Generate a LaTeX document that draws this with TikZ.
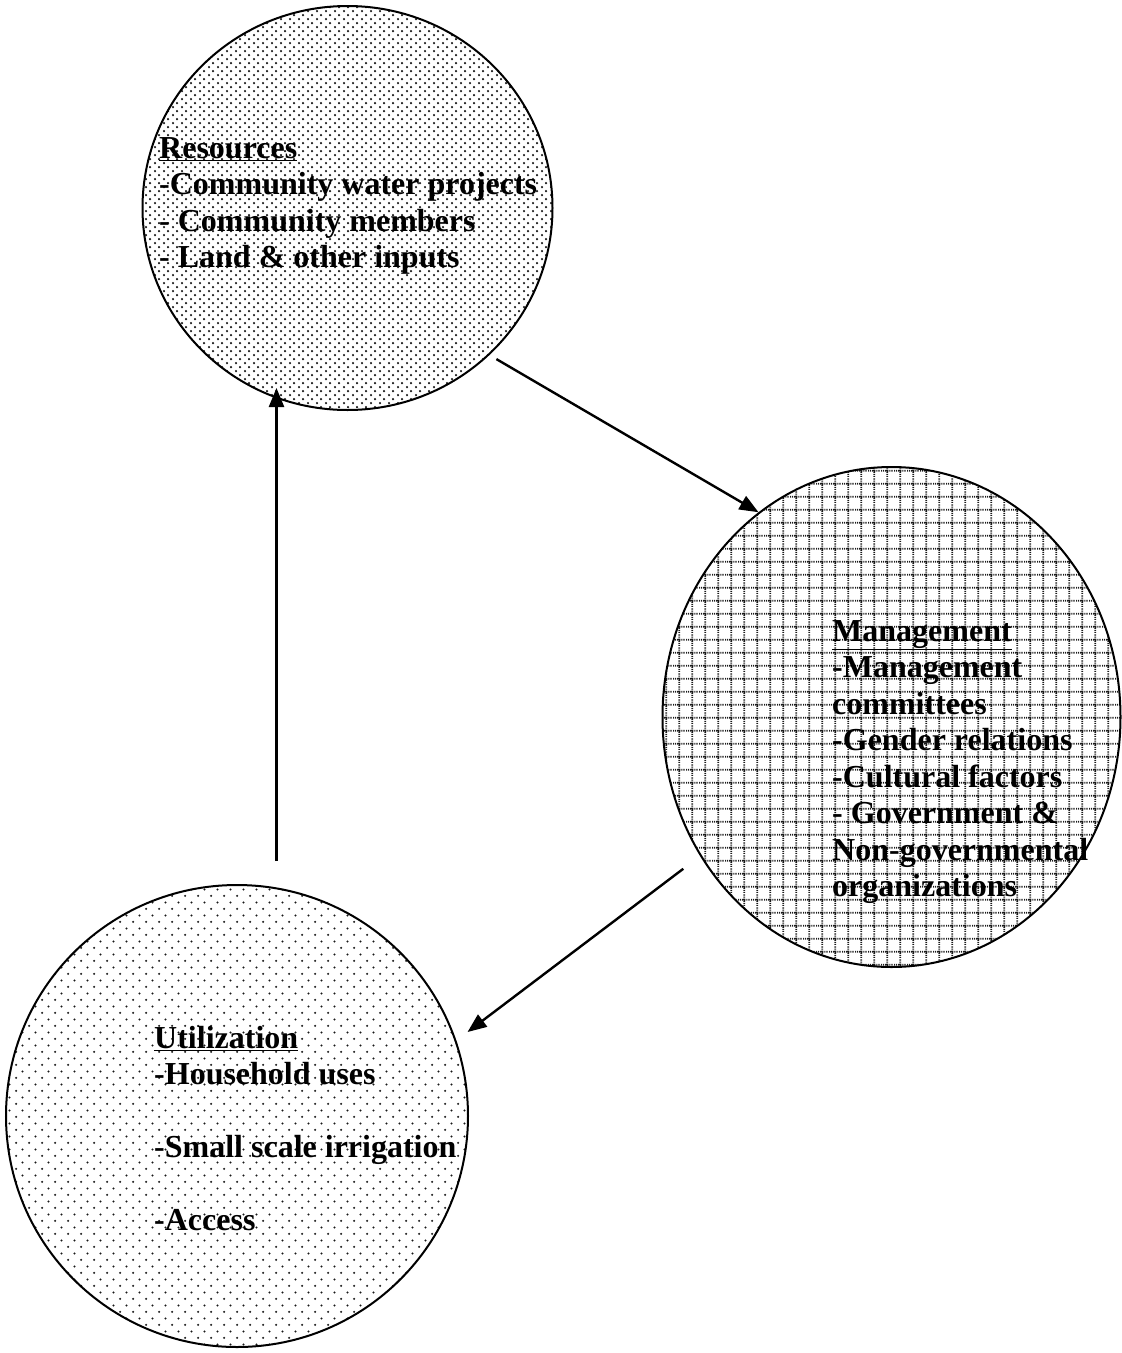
\documentclass[tikz,border=0pt]{standalone}
\usepackage{fontspec}
\setmainfont{Liberation Serif}
\usetikzlibrary{shapes.geometric,patterns.meta,arrows.meta}

\tikzdeclarepattern{
  name=resdots,
  type=uncolored,
  bottom left={(0pt,0pt)},
  top right={(9pt,8.4pt)},
  tile size={(9pt,8.4pt)},
  code={
    \pgfpathcircle{\pgfpoint{2.25pt}{2.1pt}}{1.35pt}
    \pgfpathcircle{\pgfpoint{6.75pt}{6.3pt}}{1.35pt}
    \pgfusepath{fill}
  }
}
\tikzdeclarepattern{
  name=mangrid,
  type=uncolored,
  bottom left={(0pt,0pt)},
  top right={(13.2pt,13.2pt)},
  tile size={(13.2pt,13.2pt)},
  code={
    \pgfsetlinewidth{1.8pt}
    \pgfsetdash{{1.2pt}{1.0pt}}{0pt}
    \pgfpathmoveto{\pgfpoint{0pt}{6.6pt}}\pgfpathlineto{\pgfpoint{13.2pt}{6.6pt}}
    \pgfpathmoveto{\pgfpoint{6.6pt}{0pt}}\pgfpathlineto{\pgfpoint{6.6pt}{13.2pt}}
    \pgfusepath{stroke}
  }
}
\tikzdeclarepattern{
  name=utildots,
  type=uncolored,
  bottom left={(0pt,0pt)},
  top right={(13.3pt,13.3pt)},
  tile size={(13.3pt,13.3pt)},
  code={
    \pgfpathcircle{\pgfpoint{3.3pt}{3.3pt}}{1.2pt}
    \pgfpathcircle{\pgfpoint{9.95pt}{9.95pt}}{1.2pt}
    \pgfusepath{fill}
  }
}

\begin{document}
\begin{tikzpicture}[x=1pt,y=-1pt,
  bubble/.style={ellipse, draw=black, line width=2pt, inner sep=0pt},
  txt/.style={anchor=base west, inner sep=0pt, text=black,
              font=\fontsize{32}{36.5}\selectfont\bfseries},
  arr/.style={draw=black, line width=2.4pt, -{Triangle[length=19pt,width=15pt]}}]

\fill[white] (0,0) rectangle (1122,1353);
\useasboundingbox (0,0) rectangle (1122,1353);

% circles
\node[bubble, pattern=resdots, pattern color=black!90,
      minimum width=410pt, minimum height=404pt] (res) at (347.5,208) {};
\node[bubble, pattern=mangrid, pattern color=black!90,
      minimum width=458pt, minimum height=500pt] (man) at (891.5,717) {};
\node[bubble, pattern=utildots, pattern color=black!90,
      minimum width=462pt, minimum height=462pt] (util) at (237,1116) {};

% texts
\node[txt] (resT) at (159,158) {\begin{tabular}[t]{@{}l@{}}\underline{Resources}\\-Community water projects\\- Community members\\- Land \& other inputs\end{tabular}};
\node[txt] (manT) at (832,641) {\begin{tabular}[t]{@{}l@{}}\underline{Management}\\-Management\\committees\\-Gender relations\\-Cultural factors\\- Government \&\\Non-governmental\\organizations\end{tabular}};
\node[txt] (utilT) at (154,1048) {\begin{tabular}[t]{@{}l@{}}\underline{Utilization}\\-Household uses\\ \\-Small scale irrigation\\ \\-Access\end{tabular}};

% connectors
\draw[arr, shorten <=8pt] (res.-46.6) -- (man.123.4);
\draw[arr, shorten <=21pt, shorten >=14pt] (man.216.5) -- (util.19.5);
\draw[arr] ([xshift=39.5pt,yshift=23pt]util.north) -- ([xshift=39.5pt,yshift=23pt]util.north |- res.south);

\end{tikzpicture}
\end{document}
